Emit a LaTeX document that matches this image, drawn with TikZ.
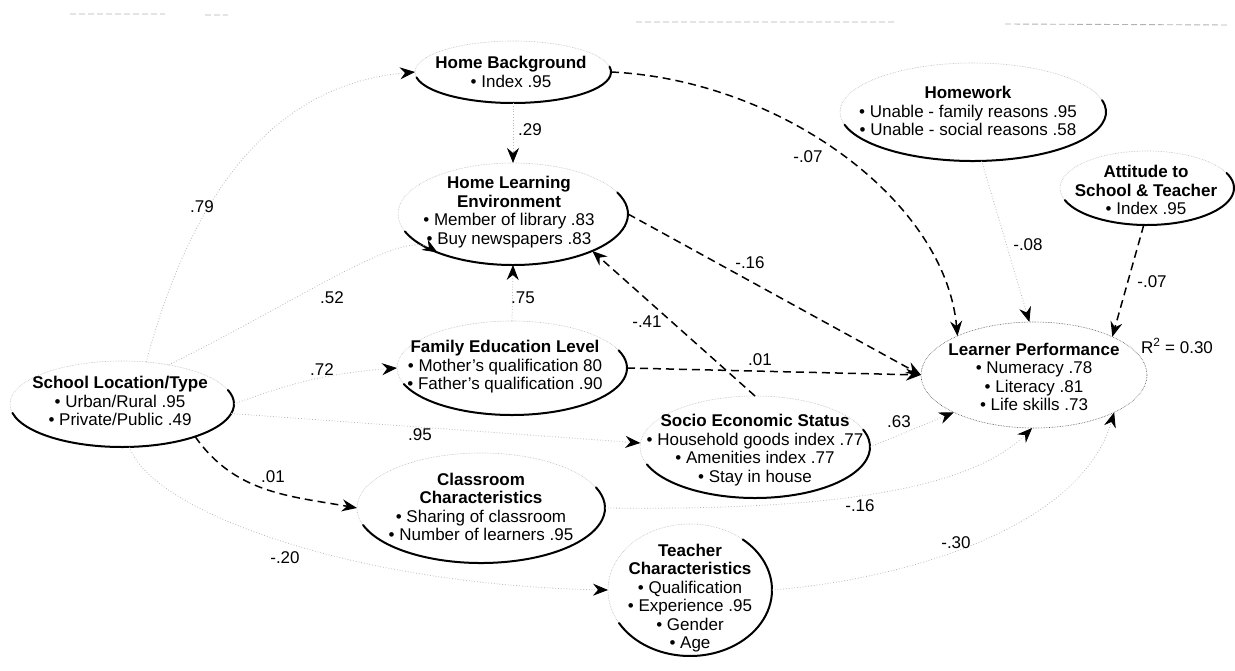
\documentclass[tikz,border=0pt]{standalone}
\usepackage{fontspec}
\setmainfont{Liberation Sans}
\usetikzlibrary{arrows.meta,shapes.geometric}

\begin{document}
\begin{tikzpicture}[x=1pt, y=1pt,
    every node/.style={font=\fontsize{17}{18.5}\selectfont},
    var/.style={ellipse, draw=gray!55, densely dotted, line width=0.6pt, inner sep=0pt, outer sep=0pt},
    txt/.style={align=center, inner sep=0pt},
    rim/.style={line width=2pt, line cap=round},
    effect/.style={-{Stealth[length=15pt,width=12pt,inset=5pt]}, dash pattern=on 8pt off 5pt, line width=1.5pt},
    weak/.style={-{Stealth[length=15pt,width=12pt,inset=5pt,color=black]}, gray!55, dotted, line width=0.8pt}]
    \useasboundingbox (0,0) rectangle (1235,-671);
    % scan marks along the top edge
    \draw[gray!60, dash pattern=on 6pt off 3pt, line width=0.9pt] (70,-14) -- (165,-14) (205,-15) -- (228,-15)
        (636,-22) -- (895,-22) (1005,-24) -- (1228,-25);

    % latent variables
    \node[var, minimum width=196pt, minimum height=62pt] (hb) at (513,-72) {};
    \node[txt] (hbt) at (511,-72) {\textbf{Home Background}\\\textbullet\ Index .95};
    \node[var, minimum width=266pt, minimum height=98pt] (hw) at (973,-112) {};
    \node[txt] (hwt) at (968,-111) {\textbf{Homework}\\\textbullet\ Unable - family reasons .95\\\textbullet\ Unable - social reasons .58};
    \node[var, minimum width=174pt, minimum height=74pt] (att) at (1147,-188) {};
    \node[txt] (attt) at (1146,-190) {\textbf{Attitude to}\\\textbf{School \& Teacher}\\\textbullet\ Index .95};
    \node[var, minimum width=230pt, minimum height=102pt] (hle) at (513,-214) {};
    \node[txt] (hlet) at (509,-212) {\textbf{Home Learning}\\\textbf{Environment}\\\textbullet\ Member of library .83\\\textbullet\ Buy newspapers .83};
    \node[var, minimum width=230pt, minimum height=94pt] (fel) at (512,-368) {};
    \node[txt] (felt) at (505,-367) {\textbf{Family Education Level}\\\textbullet\ Mother's qualification 80\\\textbullet\ Father's qualification .90};
    \node[var, minimum width=224pt, minimum height=86pt] (sl) at (122,-404) {};
    \node[txt] (slt) at (120,-401) {\textbf{School Location/Type}\\\textbullet\ Urban/Rural .95\\\textbullet\ Private/Public .49};
    \node[var, minimum width=230pt, minimum height=102pt] (ses) at (755,-447) {};
    \node[txt] (sest) at (755,-450) {\textbf{Socio Economic Status}\\\textbullet\ Household goods index .77\\\textbullet\ Amenities index .77\\\textbullet\ Stay in house};
    \node[var, minimum width=248pt, minimum height=110pt] (cc) at (481,-508) {};
    \node[txt] (cct) at (481,-507) {\textbf{Classroom}\\\textbf{Characteristics}\\\textbullet\ Sharing of classroom\\\textbullet\ Number of learners .95};
    \node[var, minimum width=164pt, minimum height=132pt] (tc) at (690,-590) {};
    \node[txt] (tct) at (690,-598) {\textbf{Teacher}\\\textbf{Characteristics}\\\textbullet\ Qualification\\\textbullet\ Experience .95\\\textbullet\ Gender\\\textbullet\ Age};
    \node[var, draw=black!70, minimum width=226pt, minimum height=106pt] (lp) at (1034,-375) {};
    \node[txt] (lpt) at (1034,-377) {\textbf{Learner Performance}\\\textbullet\ Numeracy .78\\\textbullet\ Literacy .81\\\textbullet\ Life skills .73};

    % heavy lower rims
    \draw[rim] (hb.center) ++(190:98 and 31) arc[start angle=190, end angle=370, x radius=98, y radius=31];
    \draw[rim] (hw.center) ++(195:133 and 49) arc[start angle=195, end angle=374, x radius=133, y radius=49];
    \draw[rim] (att.center) ++(199:87 and 37) arc[start angle=199, end angle=384, x radius=87, y radius=37];
    \draw[rim] (hle.center) ++(200:115 and 51) arc[start angle=200, end angle=385, x radius=115, y radius=51];
    \draw[rim] (fel.center) ++(200:115 and 47) arc[start angle=200, end angle=382, x radius=115, y radius=47];
    \draw[rim] (sl.center) ++(192:112 and 43) arc[start angle=192, end angle=379, x radius=112, y radius=43];
    \draw[rim] (ses.center) ++(200:115 and 51) arc[start angle=200, end angle=380, x radius=115, y radius=51];
    \draw[rim] (cc.center) ++(198:124 and 55) arc[start angle=198, end angle=382, x radius=124, y radius=55];
    \draw[rim] (tc.center) ++(210:82 and 66) arc[start angle=210, end angle=410, x radius=82, y radius=66];

    % paths
    \draw[weak] (sl.60) to[out=75, in=185] (hb.west);
    \draw[weak] (hb.south) -- (hle.north);
    \draw[effect] (hb.east) .. controls (780,-80) and (945,-200) .. (lp.153);
    \draw[weak] (hw.-80) -- (lp.95);
    \draw[effect] (att.-95) -- (lp.26);
    \draw[weak] (sl.40) .. controls (300,-300) and (400,-230) .. (hle.207);
    \draw[weak] (fel.north) -- (hle.south);
    \draw[effect] (ses.north) -- (hle.-25);
    \draw[effect] (hle.east) -- (lp.west);
    \draw[weak] (sl.east) to[bend left=8] (fel.west);
    \draw[effect] (fel.east) -- (lp.west);
    \draw[weak] (sl.-5) -- (ses.178);
    \draw[effect] (sl.-24) to[out=-55, in=170] (cc.west);
    \draw[weak] (sl.-80) .. controls (150,-510) and (350,-585) .. (tc.west);
    \draw[weak] (ses.east) -- (lp.205);
    \draw[weak] (cc.east) .. controls (780,-510) and (960,-500) .. (lp.268);
    \draw[weak] (tc.east) .. controls (900,-580) and (1080,-530) .. (lp.-25);

    % coefficients
    \node (c79) at (202,-207) {.79};
    \node (c29) at (530,-130) {.29};
    \node (c07a) at (808,-157) {-.07};
    \node (c08) at (1028,-245) {-.08};
    \node (c07b) at (1152,-282) {-.07};
    \node (c52) at (332,-298) {.52};
    \node (c75) at (523,-298) {.75};
    \node (c41) at (647,-322) {-.41};
    \node (c16a) at (750,-263) {-.16};
    \node (c01a) at (760,-360) {.01};
    \node (c72) at (322,-370) {.72};
    \node (c95) at (420,-435) {.95};
    \node (c01b) at (273,-477) {.01};
    \node (c20) at (285,-558) {-.20};
    \node (c63) at (899,-422) {.63};
    \node (c16b) at (860,-506) {-.16};
    \node (c30) at (956,-543) {-.30};
    \node (rsq) at (1177,-346) {R\textsuperscript{2} = 0.30};
\end{tikzpicture}
\end{document}
